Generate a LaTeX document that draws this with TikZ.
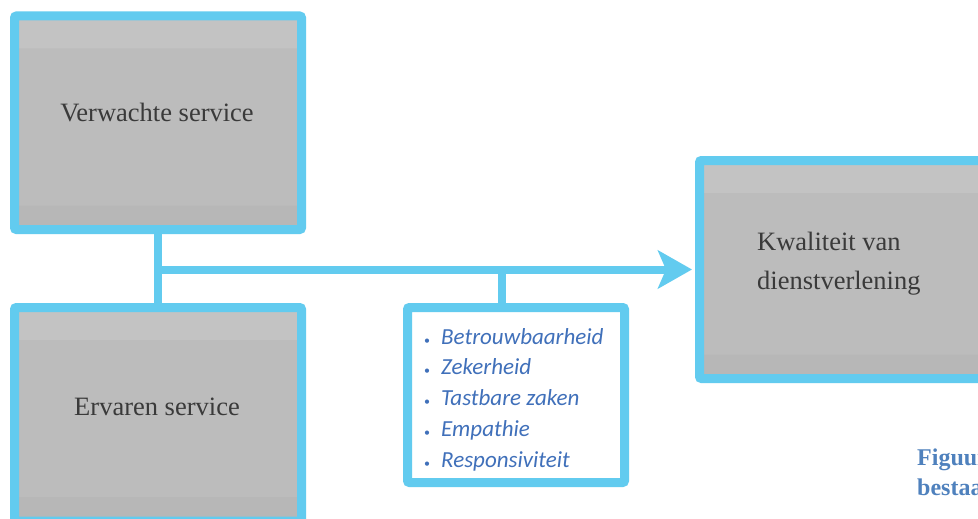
\documentclass[tikz,border=0pt]{standalone}
\usepackage{fontspec}
\newfontfamily\listfont{Carlito}
\newfontfamily\capfont{Liberation Serif}
\newfontfamily\boxfont{Liberation Serif}
\usetikzlibrary{arrows.meta,calc}
\definecolor{cyanb}{HTML}{62CBEF}
\definecolor{boxgray}{HTML}{BCBCBC}
\definecolor{bandtop}{HTML}{C3C3C3}
\definecolor{bandbot}{HTML}{B7B7B7}
\definecolor{txtgray}{HTML}{3A3A3A}
\definecolor{listblue}{HTML}{4070BA}
\definecolor{capblue}{HTML}{4F81BD}
\begin{document}
\begin{tikzpicture}[x=1pt,y=-1pt,
  graybox/.style={draw=cyanb, line width=9pt, fill=boxgray, rounded corners=2pt,
    minimum width=287pt, inner sep=0pt,
    path picture={
      \fill[bandtop] (path picture bounding box.north west) rectangle ([yshift=-32.5pt]path picture bounding box.north east);
      \fill[bandbot] ([yshift=24pt]path picture bounding box.south west) rectangle (path picture bounding box.south east);
    }},
  listbox/.style={draw=cyanb, line width=9pt, fill=white, rounded corners=2pt,
    minimum width=217pt, minimum height=175pt, inner sep=0pt},
  conn/.style={draw=cyanb, line width=8pt},
  boxtext/.style={text=txtgray, font=\boxfont\fontsize{26.5}{39}\selectfont, inner sep=0pt},
  listtext/.style={text=listblue, font=\listfont\itshape\fontsize{23}{30.8}\selectfont, inner sep=0pt, align=left},
  captext/.style={text=capblue, font=\capfont\bfseries\fontsize{24}{27}\selectfont, inner sep=0pt, anchor=west}
]
\useasboundingbox (0,0) rectangle (978,519);
\clip (0,0) rectangle (978,519);
\fill[white] (0,0) rectangle (978,519);

\node[graybox, minimum height=213.5pt] (verw) at (158,122.75) {};
\node[graybox, minimum height=213.5pt] (erv) at (158,414.25) {};
\node[graybox, minimum height=218pt] (kwal) at (843,269.5) {};
\node[listbox] (lijst) at (516,395) {};

\coordinate (split) at (verw.south |- kwal.west);
\coordinate (lt) at ([xshift=-14pt]lijst.north);

\draw[conn] (verw.south) -- (erv.north);
\draw[conn] (lt |- split) -- (lt);
\draw[conn, shorten >=3pt, -{Stealth[length=34pt,width=38pt,inset=8pt]}] (split) -- (kwal.west);

\node[boxtext] (t1) at (157,113) {Verwachte service};
\node[boxtext] (t2) at (157,407) {Ervaren service};
\node[boxtext, anchor=west, align=left] (t3) at (757,263.5) {Kwaliteit van\\dienstverlening};

\node[listtext, anchor=west] (items) at (424,399.5) {%
\makebox[17pt][l]{\upshape\fontsize{12}{12}\selectfont•}Betrouwbaarheid\\
\makebox[17pt][l]{\upshape\fontsize{12}{12}\selectfont•}Zekerheid\\
\makebox[17pt][l]{\upshape\fontsize{12}{12}\selectfont•}Tastbare zaken\\
\makebox[17pt][l]{\upshape\fontsize{12}{12}\selectfont•}Empathie\\
\makebox[17pt][l]{\upshape\fontsize{12}{12}\selectfont•}Responsiviteit};

\node[captext] (c1) at (917,460) {Figuur};
\node[captext] (c2) at (917,487) {bestaat};
\end{tikzpicture}
\end{document}
